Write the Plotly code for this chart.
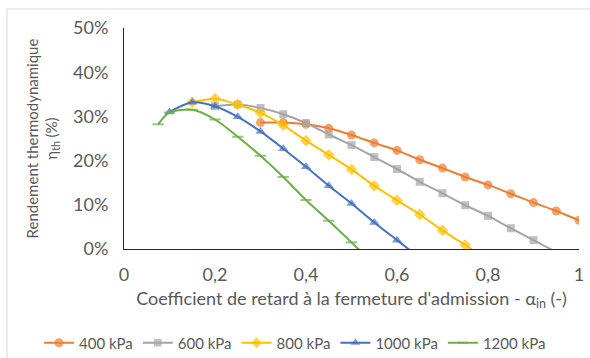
import plotly.graph_objects as go

# ---- data ----
x_400 = [0.30, 0.35, 0.40, 0.45, 0.50, 0.55, 0.60, 0.65, 0.70, 0.75, 0.80, 0.85, 0.90, 0.95, 1.00]
y_400 = [28.6, 28.6, 28.2, 27.3, 25.8, 24.0, 22.3, 20.2, 18.3, 16.3, 14.5, 12.5, 10.5, 8.6, 6.5]

x_600 = [0.20, 0.25, 0.30, 0.35, 0.40, 0.45, 0.50, 0.55, 0.60, 0.65, 0.70, 0.75, 0.80, 0.85, 0.90, 0.95]
y_600 = [32.3, 32.7, 31.9, 30.5, 28.5, 25.9, 23.5, 20.8, 18.1, 15.2, 12.6, 9.9, 7.5, 4.7, 2.0, -0.7]

x_800 = [0.15, 0.20, 0.25, 0.30, 0.35, 0.40, 0.45, 0.50, 0.55, 0.60, 0.65, 0.70, 0.75, 0.80]
y_800 = [33.2, 34.0, 32.7, 30.8, 28.0, 24.5, 21.3, 18.0, 14.3, 11.0, 7.8, 4.2, 0.9, -2.6]

x_1000 = [0.10, 0.15, 0.20, 0.25, 0.30, 0.35, 0.40, 0.45, 0.50, 0.55, 0.60, 0.65]
y_1000 = [31.0, 33.2, 32.3, 29.9, 26.6, 22.7, 18.6, 14.3, 10.3, 6.0, 2.0, -2.0]

x_1200 = [0.075, 0.10, 0.15, 0.20, 0.25, 0.30, 0.35, 0.40, 0.45, 0.50, 0.55]
y_1200 = [28.2, 30.9, 31.5, 29.3, 25.4, 21.1, 16.3, 11.1, 6.4, 1.5, -3.5]

series_names = ["400 kPa", "600 kPa", "800 kPa", "1000 kPa", "1200 kPa"]
x_ticks = [0, 0.2, 0.4, 0.6, 0.8, 1]
x_labels = ["0", "0,2", "0,4", "0,6", "0,8", "1"]
y_ticks = [0, 10, 20, 30, 40, 50]
y_labels = ["0%", "10%", "20%", "30%", "40%", "50%"]

# ---- style ----
colors = ["#ED7D31", "#A5A5A5", "#FFC000", "#4472C4", "#70AD47"]
symbols = ["circle", "square", "diamond", "triangle-up", "line-ew"]
sizes = [9, 8, 9, 9, 8]
FONT = "Lato, Calibri, Carlito, sans-serif"
TXT = "#595959"

W, H = 590, 358
PL, PR, PT, PB = 124, 579, 28, 249   # plot-area pixel box

fig = go.Figure()
all_x = [x_400, x_600, x_800, x_1000, x_1200]
all_y = [y_400, y_600, y_800, y_1000, y_1200]
for i, (xs, ys) in enumerate(zip(all_x, all_y)):
    msize = [sizes[i] if v >= 0 else 0 for v in ys]
    fig.add_trace(go.Scatter(
        x=xs, y=ys, name=series_names[i], mode="lines+markers",
        line=dict(color=colors[i], width=2, shape="spline", smoothing=0.8),
        marker=dict(symbol=symbols[i], size=msize, color=colors[i],
                    line=dict(color=colors[i], width=2 if symbols[i] == "line-ew" else 0)),
    ))

fig.update_layout(
    width=W, height=H,
    margin=dict(l=0, r=0, t=0, b=0, autoexpand=False),
    paper_bgcolor="white", plot_bgcolor="white",
    font=dict(family=FONT, size=15, color=TXT),
    showlegend=True,
    legend=dict(orientation="h", x=0.5, xref="container", xanchor="center",
                y=15 / H, yref="container", yanchor="middle",
                font=dict(family=FONT, size=15, color=TXT),
                itemwidth=30, tracegroupgap=0, traceorder="normal"),
    xaxis=dict(domain=[PL / W, PR / W], range=[0, 1], tickmode="array",
               tickvals=x_ticks, ticktext=x_labels,
               showgrid=False, zeroline=False, automargin=False,
               showline=True, linecolor="#262626", linewidth=1, ticks="",
               ticklabelstandoff=9,
               tickfont=dict(family=FONT, size=18, color=TXT),
               title=dict(text="Coefficient de retard à la fermeture d'admission - α<sub>in</sub> (-)",
                          font=dict(family=FONT, size=18, color=TXT), standoff=8)),
    yaxis=dict(domain=[1 - PB / H, 1 - PT / H], range=[0, 50], tickmode="array",
               tickvals=y_ticks, ticktext=y_labels,
               showgrid=False, zeroline=False, automargin=False,
               showline=True, linecolor="#262626", linewidth=1, ticks="",
               ticklabelstandoff=11,
               tickfont=dict(family=FONT, size=18, color=TXT),
               title=dict(text="Rendement thermodynamique<br>η<sub>th</sub> (%)",
                          font=dict(family=FONT, size=15, color=TXT), standoff=11)),
    shapes=[dict(type="rect", xref="paper", yref="paper",
                 x0=7 / W, x1=(W + 5) / W, y0=-5 / H, y1=1 - 9 / H,
                 line=dict(color="#D9D9D9", width=1), fillcolor="rgba(0,0,0,0)", layer="below")],
)

fig.write_html("out.html")
